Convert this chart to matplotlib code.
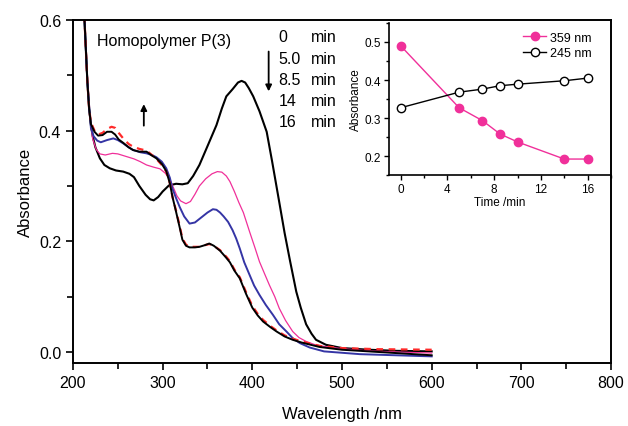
import matplotlib
matplotlib.use("Agg")
import matplotlib.pyplot as plt
from matplotlib.ticker import MultipleLocator

plt.rcParams['font.family'] = ['Liberation Sans', 'DejaVu Sans']

# spectra (wavelength nm, absorbance)
wl_0 = [212, 214, 216, 218, 220, 222, 225, 230, 235, 241, 248, 256, 263, 268, 274, 281, 286, 290,
        295, 300, 307, 315, 322, 328, 334, 341, 350, 360, 366, 371, 378, 384, 388, 392, 396, 401,
        408, 416, 422, 430, 436, 442, 449, 454, 460, 466, 471, 482, 500, 530, 560, 600]
abs_0 = [0.63, 0.56, 0.49, 0.44, 0.41, 0.39, 0.37, 0.35, 0.338, 0.332, 0.328, 0.326, 0.322, 0.316,
         0.300, 0.284, 0.276, 0.274, 0.280, 0.290, 0.301, 0.304, 0.303, 0.305, 0.318, 0.338, 0.372,
         0.410, 0.440, 0.462, 0.475, 0.487, 0.490, 0.487, 0.477, 0.462, 0.435, 0.398, 0.345, 0.271,
         0.215, 0.165, 0.109, 0.080, 0.050, 0.033, 0.022, 0.013, 0.007, 0.004, 0.002, 0.001]

wl_5 = [212, 214, 216, 218, 220, 222, 226, 230, 236, 244, 250, 256, 262, 268, 275, 282, 290, 297,
        303, 308, 312, 316, 320, 326, 331, 336, 341, 348, 355, 361, 366, 371, 375, 380, 385, 390,
        397, 403, 408, 414, 419, 425, 430, 437, 445, 452, 460, 470, 480, 500, 530, 560, 600]
abs_5 = [0.63, 0.56, 0.49, 0.44, 0.41, 0.385, 0.366, 0.358, 0.356, 0.359, 0.358, 0.355, 0.352,
         0.349, 0.344, 0.338, 0.334, 0.331, 0.323, 0.312, 0.297, 0.282, 0.273, 0.268, 0.272, 0.285,
         0.300, 0.313, 0.322, 0.326, 0.325, 0.318, 0.308, 0.290, 0.270, 0.252, 0.217, 0.188, 0.163,
         0.140, 0.121, 0.100, 0.079, 0.057, 0.037, 0.026, 0.019, 0.013, 0.010, 0.006, 0.002, 0.000,
         -0.002]

wl_85 = [212, 214, 216, 218, 220, 223, 227, 231, 238, 245, 250, 256, 262, 267, 275, 282, 288, 293,
         299, 304, 308, 311, 315, 319, 324, 330, 336, 343, 350, 356, 360, 364, 368, 373, 378, 382,
         386, 391, 397, 402, 408, 415, 423, 430, 438, 445, 453, 464, 480, 520, 560, 600]
abs_85 = [0.63, 0.56, 0.49, 0.445, 0.405, 0.39, 0.382, 0.379, 0.383, 0.386, 0.383, 0.377, 0.370,
          0.365, 0.361, 0.359, 0.356, 0.352, 0.344, 0.332, 0.315, 0.295, 0.278, 0.262, 0.245, 0.232,
          0.234, 0.243, 0.252, 0.258, 0.257, 0.252, 0.245, 0.235, 0.220, 0.205, 0.187, 0.162, 0.139,
          0.120, 0.103, 0.085, 0.067, 0.050, 0.037, 0.025, 0.016, 0.008, 0.001, -0.004, -0.006,
          -0.008]

wl_14 = [212, 214, 216, 218, 220, 224, 228, 233, 238, 243, 247, 251, 256, 262, 267, 274, 282, 288,
         293, 299, 304, 308, 311, 315, 319, 322, 326, 330, 336, 341, 347, 352, 357, 364, 371, 375,
         380, 386, 393, 400, 406, 412, 420, 427, 436, 445, 455, 475, 500, 540, 600]
abs_14 = [0.63, 0.56, 0.49, 0.44, 0.415, 0.40, 0.393, 0.396, 0.403, 0.407, 0.405, 0.396, 0.386,
          0.376, 0.371, 0.367, 0.364, 0.356, 0.349, 0.338, 0.326, 0.305, 0.280, 0.255, 0.228, 0.205,
          0.194, 0.190, 0.190, 0.190, 0.193, 0.195, 0.192, 0.184, 0.172, 0.164, 0.149, 0.135, 0.108,
          0.083, 0.069, 0.058, 0.047, 0.039, 0.030, 0.024, 0.019, 0.011, 0.007, 0.005, 0.004]

wl_16 = wl_14
abs_16 = [0.63, 0.56, 0.49, 0.44, 0.412, 0.398, 0.391, 0.392, 0.398, 0.398, 0.393, 0.384, 0.378,
          0.370, 0.365, 0.362, 0.362, 0.355, 0.350, 0.340, 0.327, 0.305, 0.280, 0.253, 0.225, 0.203,
          0.192, 0.189, 0.189, 0.190, 0.193, 0.196, 0.192, 0.183, 0.170, 0.162, 0.147, 0.133, 0.105,
          0.080, 0.066, 0.055, 0.045, 0.037, 0.028, 0.022, 0.017, 0.009, 0.004, 0.000, -0.006]

time_labels = ["0", "5.0", "8.5", "14", "16"]

# inset kinetics
t_min = [0, 5, 7, 8.5, 10, 14, 16]
a_359 = [0.490, 0.327, 0.293, 0.258, 0.237, 0.192, 0.192]
a_245 = [0.327, 0.368, 0.376, 0.385, 0.389, 0.398, 0.405]

PINK = "#f0309a"
BLUE = "#3535a5"
RED = "#ff2a2a"

fig = plt.figure(figsize=(6.28, 4.27), dpi=100)
ax = fig.add_axes([0.1162, 0.1475, 0.8568, 0.8033])

ax.plot(wl_0, abs_0, color="black", lw=1.5)
ax.plot(wl_5, abs_5, color=PINK, lw=0.9)
ax.plot(wl_85, abs_85, color=BLUE, lw=1.4)
ax.plot(wl_14, abs_14, color=RED, lw=1.6, ls=(0, (3, 2.5)))
ax.plot(wl_16, abs_16, color="black", lw=1.4)

ax.set_xlim(200, 800)
ax.set_ylim(-0.02, 0.6)
ax.xaxis.set_major_locator(MultipleLocator(100))
ax.xaxis.set_minor_locator(MultipleLocator(50))
ax.yaxis.set_major_locator(MultipleLocator(0.2))
ax.yaxis.set_minor_locator(MultipleLocator(0.1))
ax.tick_params(which="both", direction="out", top=False, right=False, width=1.2, labelsize=11.5)
ax.tick_params(which="major", length=5)
ax.tick_params(which="minor", length=4)
for s in ax.spines.values():
    s.set_linewidth(1.4)
ax.set_xlabel("Wavelength /nm", fontsize=12, labelpad=12)
ax.set_ylabel("Absorbance", fontsize=12, labelpad=4)

ax.text(226.7, 0.563, "Homopolymer P(3)", fontsize=11.5, va="center", ha="left")
row_y = [0.570, 0.530, 0.492, 0.455, 0.416]
for lab, yy in zip(time_labels, row_y):
    ax.text(429.3, yy, lab, fontsize=11.5, va="center", ha="left")
    ax.text(465, yy, "min", fontsize=11.5, va="center", ha="left")

ax.annotate("", xy=(418.2, 0.466), xytext=(418.2, 0.548),
            arrowprops=dict(arrowstyle="-|>", color="black", lw=1.3, mutation_scale=9))
ax.annotate("", xy=(279, 0.453), xytext=(279, 0.404),
            arrowprops=dict(arrowstyle="-|>", color="black", lw=1.3, mutation_scale=9))

# inset
ins = fig.add_axes([0.6194, 0.5878, 0.3536, 0.356])
ins.plot(t_min, a_359, color=PINK, lw=1.0, marker="o", ms=6, mfc=PINK, mec=PINK, label="359 nm")
ins.plot(t_min, a_245, color="black", lw=1.0, marker="o", ms=6, mfc="white", mec="black",
         mew=1.0, label="245 nm")
ins.set_xlim(-1, 18)
ins.set_ylim(0.15, 0.55)
ins.xaxis.set_major_locator(MultipleLocator(4))
ins.xaxis.set_minor_locator(MultipleLocator(2))
ins.yaxis.set_major_locator(MultipleLocator(0.1))
ins.yaxis.set_minor_locator(MultipleLocator(0.05))
ins.tick_params(which="both", direction="out", top=False, right=False, width=1.0, labelsize=8.5,
                pad=2)
ins.tick_params(which="major", length=3.5)
ins.tick_params(which="minor", length=2.5)
ins.spines["top"].set_visible(False)
ins.spines["right"].set_visible(False)
ins.spines["left"].set_linewidth(1.2)
ins.spines["bottom"].set_linewidth(1.2)
ins.patch.set_alpha(0)
ins.set_xlabel("Time /min", fontsize=8.5, labelpad=1)
ins.set_ylabel("Absorbance", fontsize=8.5, labelpad=2)
ins.legend(loc="upper right", bbox_to_anchor=(0.95, 1.0), frameon=False, fontsize=9,
           handlelength=1.8, handletextpad=0.3, borderaxespad=0.3, labelspacing=0.3)

fig.savefig("out.png", dpi=100)
